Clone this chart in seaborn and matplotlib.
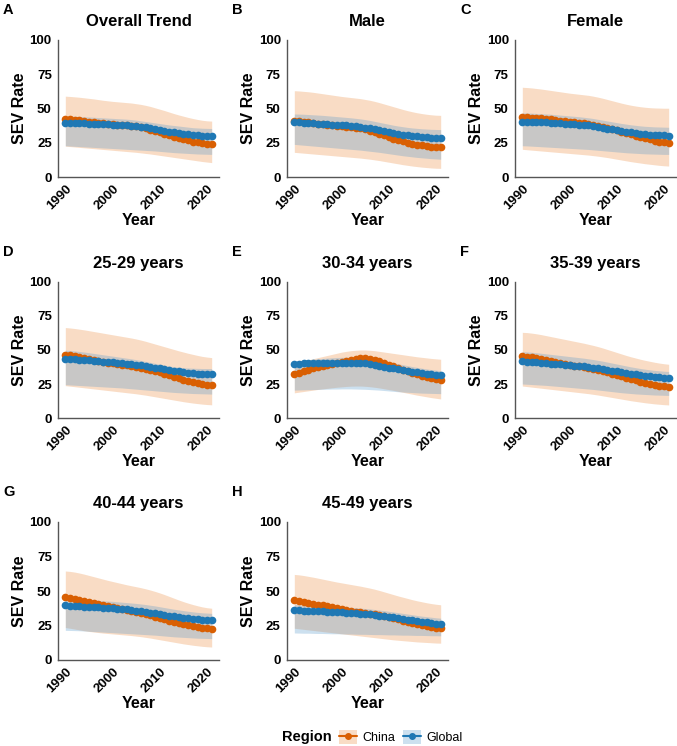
import numpy as np
import pandas as pd
import matplotlib
matplotlib.use("Agg")
import matplotlib.pyplot as plt
from matplotlib.patches import Patch
from matplotlib.lines import Line2D
import seaborn as sns

sns.set_style("white")
plt.rcParams['font.family'] = ['Liberation Sans', 'DejaVu Sans']
plt.rcParams['text.color'] = 'black'
plt.rcParams['axes.labelcolor'] = 'black'

years = list(range(1990, 2022))
panel_titles = ["Overall Trend", "Male", "Female", "25-29 years", "30-34 years",
                "35-39 years", "40-44 years", "45-49 years"]
panel_letters = ["A", "B", "C", "D", "E", "F", "G", "H"]
regions = ["China", "Global"]

# ---------- A: Overall Trend ----------
A_china = [42.5, 42.2, 41.8, 41.4, 41.0, 40.5, 40.0, 39.6, 39.2, 38.9, 38.6, 38.3, 38.0, 37.7, 37.4, 37.0, 36.4, 35.5, 34.5, 33.5, 32.5, 31.5, 30.5, 29.5, 28.5, 27.6, 26.7, 25.9, 25.2, 24.6, 24.1, 23.8]
A_global = [39.6, 39.5, 39.4, 39.3, 39.2, 39.0, 38.9, 38.7, 38.6, 38.4, 38.3, 38.1, 37.9, 37.7, 37.4, 37.2, 36.8, 36.2, 35.6, 35.0, 34.4, 33.8, 33.2, 32.6, 32.1, 31.6, 31.1, 30.7, 30.3, 30.0, 29.8, 29.7]
A_china_hi = [59.0, 58.8, 58.5, 58.2, 57.8, 57.4, 57.0, 56.5, 56.0, 55.6, 55.2, 54.9, 54.6, 54.3, 54.0, 53.5, 53.0, 52.3, 51.5, 50.5, 49.5, 48.5, 47.4, 46.3, 45.3, 44.4, 43.5, 42.7, 42.0, 41.4, 41.0, 40.8]
A_china_lo = [22.5, 22.2, 21.9, 21.6, 21.3, 21.0, 20.7, 20.4, 20.1, 19.8, 19.5, 19.2, 18.9, 18.6, 18.3, 18.0, 17.6, 17.2, 16.8, 16.3, 15.8, 15.3, 14.8, 14.3, 13.8, 13.3, 12.8, 12.3, 11.8, 11.3, 10.9, 10.5]
A_global_hi = [44.5, 44.4, 44.3, 44.2, 44.0, 43.8, 43.6, 43.4, 43.2, 43.0, 42.8, 42.6, 42.4, 42.2, 41.9, 41.5, 41.0, 40.5, 40.0, 39.5, 39.0, 38.5, 38.0, 37.6, 37.2, 36.8, 36.4, 36.0, 35.8, 35.6, 35.5, 35.4]
A_global_lo = [22.8, 22.6, 22.4, 22.2, 22.0, 21.8, 21.6, 21.4, 21.2, 21.0, 20.8, 20.6, 20.4, 20.2, 20.0, 19.8, 19.6, 19.4, 19.2, 19.0, 18.7, 18.4, 18.1, 17.8, 17.6, 17.4, 17.2, 17.0, 16.8, 16.7, 16.6, 16.5]

# ---------- B: Male ----------
B_china = [40.8, 40.7, 40.4, 40.0, 39.5, 39.0, 38.5, 38.0, 37.6, 37.3, 37.0, 36.7, 36.4, 36.0, 35.5, 34.8, 33.9, 32.8, 31.6, 30.4, 29.2, 28.0, 27.0, 26.0, 25.1, 24.3, 23.6, 23.0, 22.5, 22.1, 21.8, 21.6]
B_global = [40.0, 39.8, 39.6, 39.4, 39.2, 39.0, 38.8, 38.5, 38.3, 38.1, 37.9, 37.6, 37.3, 37.0, 36.6, 36.1, 35.5, 34.8, 34.1, 33.4, 32.7, 32.0, 31.4, 30.9, 30.4, 30.0, 29.6, 29.3, 29.0, 28.8, 28.6, 28.5]
B_china_hi = [63.0, 62.8, 62.5, 62.2, 61.8, 61.3, 60.8, 60.3, 59.8, 59.3, 58.8, 58.4, 58.0, 57.6, 57.2, 56.6, 56.0, 55.2, 54.3, 53.3, 52.3, 51.3, 50.3, 49.3, 48.4, 47.6, 46.9, 46.3, 45.8, 45.4, 45.1, 45.0]
B_china_lo = [18.0, 17.7, 17.4, 17.1, 16.8, 16.5, 16.2, 15.9, 15.6, 15.3, 15.0, 14.7, 14.4, 14.1, 13.8, 13.4, 13.0, 12.5, 12.0, 11.4, 10.8, 10.2, 9.6, 9.0, 8.5, 8.0, 7.6, 7.2, 6.9, 6.6, 6.4, 6.3]
B_global_hi = [46.0, 45.9, 45.8, 45.6, 45.4, 45.2, 45.0, 44.7, 44.4, 44.1, 43.8, 43.5, 43.2, 42.8, 42.4, 41.9, 41.3, 40.6, 39.9, 39.2, 38.5, 37.8, 37.2, 36.7, 36.2, 35.8, 35.5, 35.2, 35.0, 34.8, 34.7, 34.6]
B_global_lo = [23.8, 23.5, 23.2, 22.9, 22.6, 22.3, 22.0, 21.7, 21.4, 21.1, 20.8, 20.5, 20.2, 19.9, 19.6, 19.2, 18.8, 18.4, 18.0, 17.5, 17.0, 16.5, 16.0, 15.5, 15.1, 14.7, 14.3, 14.0, 13.7, 13.4, 13.2, 13.0]

# ---------- C: Female ----------
C_china = [43.9, 43.7, 43.4, 43.1, 42.8, 42.4, 42.0, 41.6, 41.2, 40.8, 40.4, 40.0, 39.6, 39.1, 38.6, 38.0, 37.3, 36.5, 35.7, 34.9, 34.0, 33.1, 32.2, 31.2, 30.2, 29.2, 28.3, 27.4, 26.6, 25.9, 25.4, 25.0]
C_global = [40.3, 40.2, 40.1, 40.0, 39.9, 39.8, 39.6, 39.4, 39.2, 39.0, 38.8, 38.6, 38.3, 38.0, 37.6, 37.1, 36.5, 35.9, 35.3, 34.7, 34.1, 33.5, 33.0, 32.5, 32.0, 31.6, 31.2, 30.9, 30.6, 30.4, 30.3, 30.2]
C_china_hi = [65.5, 65.3, 65.0, 64.6, 64.2, 63.7, 63.2, 62.7, 62.2, 61.7, 61.2, 60.8, 60.4, 60.0, 59.6, 59.0, 58.3, 57.5, 56.6, 55.7, 54.8, 53.9, 53.1, 52.4, 51.8, 51.3, 50.9, 50.6, 50.4, 50.3, 50.2, 50.2]
C_china_lo = [20.2, 19.9, 19.6, 19.3, 19.0, 18.7, 18.4, 18.1, 17.8, 17.5, 17.2, 16.9, 16.6, 16.3, 16.0, 15.6, 15.2, 14.7, 14.2, 13.6, 13.0, 12.4, 11.8, 11.2, 10.7, 10.2, 9.7, 9.3, 8.9, 8.5, 8.2, 8.0]
C_global_hi = [46.8, 46.7, 46.6, 46.4, 46.2, 46.0, 45.8, 45.5, 45.2, 44.9, 44.6, 44.3, 44.0, 43.6, 43.2, 42.7, 42.1, 41.5, 40.9, 40.3, 39.7, 39.1, 38.6, 38.1, 37.7, 37.3, 37.0, 36.8, 36.6, 36.5, 36.4, 36.3]
C_global_lo = [22.8, 22.7, 22.5, 22.3, 22.1, 21.9, 21.7, 21.5, 21.3, 21.1, 20.9, 20.7, 20.5, 20.3, 20.1, 19.8, 19.5, 19.2, 18.9, 18.6, 18.3, 18.0, 17.7, 17.5, 17.3, 17.1, 16.9, 16.8, 16.7, 16.6, 16.5, 16.5]

# ---------- D: 25-29 years ----------
D_china = [46.2, 46.0, 45.3, 44.5, 43.8, 43.1, 42.5, 41.9, 41.3, 40.8, 40.3, 39.8, 39.3, 38.8, 38.2, 37.6, 37.0, 36.3, 35.5, 34.6, 33.6, 32.5, 31.4, 30.3, 29.3, 28.3, 27.4, 26.5, 25.7, 25.0, 24.4, 24.0]
D_global = [43.5, 43.4, 43.2, 43.0, 42.7, 42.4, 42.1, 41.8, 41.5, 41.2, 40.9, 40.6, 40.3, 40.0, 39.6, 39.2, 38.7, 38.2, 37.6, 37.0, 36.4, 35.8, 35.2, 34.7, 34.2, 33.8, 33.4, 33.0, 32.7, 32.5, 32.3, 32.2]
D_china_hi = [66.5, 66.2, 65.8, 65.3, 64.8, 64.2, 63.6, 63.0, 62.4, 61.8, 61.2, 60.6, 60.0, 59.4, 58.8, 58.1, 57.3, 56.4, 55.4, 54.4, 53.4, 52.4, 51.4, 50.4, 49.4, 48.5, 47.6, 46.8, 46.0, 45.3, 44.8, 44.4]
D_china_lo = [23.8, 23.4, 23.0, 22.6, 22.2, 21.8, 21.4, 21.0, 20.6, 20.2, 19.8, 19.4, 19.0, 18.6, 18.2, 17.8, 17.3, 16.8, 16.2, 15.6, 15.0, 14.4, 13.8, 13.2, 12.6, 12.0, 11.5, 11.0, 10.6, 10.2, 9.9, 9.7]
D_global_hi = [49.8, 49.6, 49.3, 48.9, 48.5, 48.0, 47.5, 47.0, 46.5, 46.0, 45.5, 45.0, 44.5, 44.0, 43.5, 42.9, 42.3, 41.6, 40.9, 40.2, 39.5, 38.8, 38.2, 37.7, 37.3, 37.0, 36.8, 36.6, 36.5, 36.4, 36.4, 36.3]
D_global_lo = [24.5, 24.3, 24.1, 23.9, 23.7, 23.5, 23.3, 23.1, 22.9, 22.7, 22.5, 22.3, 22.1, 21.8, 21.5, 21.2, 20.9, 20.6, 20.3, 20.0, 19.7, 19.4, 19.1, 18.8, 18.6, 18.4, 18.2, 18.0, 17.9, 17.8, 17.7, 17.6]

# ---------- E: 30-34 years ----------
E_china = [32.0, 33.2, 34.4, 35.5, 36.5, 37.4, 38.2, 39.0, 39.8, 40.6, 41.4, 42.2, 42.9, 43.5, 43.8, 43.8, 43.5, 42.8, 41.8, 40.6, 39.3, 38.0, 36.8, 35.6, 34.4, 33.3, 32.2, 31.2, 30.3, 29.4, 28.6, 28.0]
E_global = [39.8, 40.0, 40.1, 40.2, 40.3, 40.4, 40.5, 40.6, 40.7, 40.8, 40.8, 40.8, 40.8, 40.7, 40.5, 40.2, 39.8, 39.2, 38.5, 37.8, 37.1, 36.4, 35.8, 35.2, 34.6, 34.0, 33.5, 33.0, 32.5, 32.1, 31.8, 31.6]
E_china_hi = [40.5, 41.2, 42.0, 42.8, 43.6, 44.4, 45.2, 46.0, 46.8, 47.6, 48.4, 49.0, 49.5, 49.8, 50.0, 50.0, 49.8, 49.5, 49.0, 48.5, 48.0, 47.5, 47.0, 46.5, 46.0, 45.5, 45.0, 44.6, 44.2, 43.8, 43.5, 43.2]
E_china_lo = [18.5, 19.0, 19.5, 20.0, 20.5, 21.0, 21.4, 21.8, 22.2, 22.6, 22.9, 23.2, 23.4, 23.5, 23.5, 23.3, 23.0, 22.6, 22.1, 21.5, 20.9, 20.3, 19.6, 18.9, 18.2, 17.5, 16.8, 16.2, 15.6, 15.0, 14.5, 14.0]
E_global_hi = [42.0, 42.3, 42.6, 42.9, 43.2, 43.5, 43.8, 44.1, 44.3, 44.5, 44.6, 44.7, 44.7, 44.6, 44.4, 44.1, 43.7, 43.2, 42.6, 42.0, 41.3, 40.6, 39.9, 39.2, 38.5, 37.8, 37.2, 36.6, 36.1, 35.6, 35.2, 34.8]
E_global_lo = [20.5, 20.6, 20.7, 20.8, 20.9, 21.0, 21.1, 21.2, 21.3, 21.3, 21.4, 21.4, 21.4, 21.3, 21.2, 21.1, 20.9, 20.7, 20.5, 20.2, 19.9, 19.6, 19.3, 19.1, 18.9, 18.7, 18.5, 18.3, 18.2, 18.1, 18.0, 17.9]

# ---------- F: 35-39 years ----------
F_china = [45.7, 45.2, 44.6, 44.0, 43.3, 42.6, 41.9, 41.2, 40.5, 39.8, 39.1, 38.5, 37.9, 37.3, 36.7, 36.1, 35.4, 34.6, 33.7, 32.7, 31.7, 30.7, 29.7, 28.7, 27.7, 26.8, 25.9, 25.1, 24.4, 23.8, 23.2, 22.8]
F_global = [41.6, 41.4, 41.2, 40.9, 40.6, 40.3, 40.0, 39.7, 39.4, 39.1, 38.8, 38.5, 38.2, 37.9, 37.5, 37.1, 36.6, 36.0, 35.4, 34.8, 34.2, 33.6, 33.0, 32.5, 32.0, 31.5, 31.0, 30.6, 30.2, 29.9, 29.6, 29.4]
F_china_hi = [63.0, 62.8, 62.4, 61.9, 61.3, 60.6, 59.9, 59.2, 58.5, 57.8, 57.1, 56.4, 55.7, 55.0, 54.2, 53.4, 52.5, 51.5, 50.4, 49.3, 48.2, 47.1, 46.0, 45.0, 44.1, 43.2, 42.4, 41.7, 41.0, 40.4, 39.9, 39.5]
F_china_lo = [23.5, 23.1, 22.7, 22.3, 21.9, 21.5, 21.1, 20.7, 20.3, 19.9, 19.5, 19.1, 18.7, 18.3, 17.9, 17.4, 16.9, 16.3, 15.7, 15.1, 14.5, 13.9, 13.3, 12.7, 12.2, 11.7, 11.2, 10.8, 10.4, 10.1, 9.8, 9.6]
F_global_hi = [48.8, 48.6, 48.3, 48.0, 47.6, 47.2, 46.8, 46.4, 46.0, 45.6, 45.2, 44.8, 44.4, 44.0, 43.5, 43.0, 42.4, 41.8, 41.1, 40.4, 39.7, 39.0, 38.3, 37.6, 37.0, 36.4, 35.9, 35.4, 35.0, 34.7, 34.4, 34.2]
F_global_lo = [25.0, 24.8, 24.6, 24.4, 24.2, 24.0, 23.7, 23.4, 23.1, 22.8, 22.5, 22.2, 21.9, 21.6, 21.3, 21.0, 20.6, 20.2, 19.8, 19.4, 19.0, 18.6, 18.3, 18.0, 17.7, 17.5, 17.3, 17.1, 16.9, 16.8, 16.7, 16.6]

# ---------- G: 40-44 years ----------
G_china = [45.3, 44.8, 44.2, 43.5, 42.8, 42.0, 41.2, 40.4, 39.6, 38.9, 38.2, 37.5, 36.8, 36.1, 35.4, 34.7, 34.0, 33.2, 32.4, 31.5, 30.5, 29.5, 28.5, 27.6, 26.7, 25.9, 25.1, 24.5, 23.9, 23.4, 23.0, 22.8]
G_global = [39.5, 39.3, 39.1, 38.9, 38.7, 38.5, 38.3, 38.1, 37.9, 37.7, 37.5, 37.2, 36.9, 36.6, 36.2, 35.8, 35.3, 34.8, 34.3, 33.8, 33.2, 32.6, 32.1, 31.6, 31.1, 30.6, 30.2, 29.8, 29.4, 29.1, 28.9, 28.7]
G_china_hi = [64.5, 64.2, 63.7, 63.0, 62.2, 61.3, 60.4, 59.5, 58.6, 57.7, 56.9, 56.1, 55.3, 54.5, 53.8, 53.1, 52.4, 51.6, 50.7, 49.7, 48.6, 47.4, 46.1, 44.8, 43.5, 42.3, 41.2, 40.2, 39.3, 38.5, 37.9, 37.5]
G_china_lo = [23.5, 23.0, 22.4, 21.8, 21.2, 20.7, 20.3, 19.9, 19.5, 19.2, 18.9, 18.6, 18.3, 18.0, 17.7, 17.3, 16.9, 16.4, 15.9, 15.3, 14.7, 14.1, 13.5, 12.9, 12.3, 11.7, 11.2, 10.7, 10.3, 9.9, 9.6, 9.4]
G_global_hi = [44.5, 44.3, 44.1, 43.9, 43.7, 43.5, 43.3, 43.1, 42.9, 42.7, 42.5, 42.2, 41.9, 41.6, 41.3, 41.0, 40.6, 40.2, 39.7, 39.2, 38.6, 38.0, 37.4, 36.8, 36.3, 35.8, 35.3, 34.9, 34.5, 34.2, 34.0, 33.8]
G_global_lo = [21.5, 21.4, 21.3, 21.2, 21.0, 20.8, 20.6, 20.4, 20.2, 20.0, 19.8, 19.6, 19.4, 19.2, 19.0, 18.8, 18.6, 18.4, 18.2, 18.0, 17.7, 17.4, 17.1, 16.8, 16.6, 16.4, 16.2, 16.0, 15.8, 15.7, 15.6, 15.5]

# ---------- H: 45-49 years ----------
H_china = [43.6, 43.0, 42.3, 41.6, 40.9, 40.2, 39.5, 38.8, 38.1, 37.4, 36.8, 36.2, 35.6, 35.0, 34.5, 34.0, 33.5, 33.0, 32.4, 31.8, 31.1, 30.3, 29.5, 28.6, 27.7, 26.8, 26.0, 25.2, 24.5, 23.9, 23.4, 23.0]
H_global = [36.0, 35.9, 35.8, 35.7, 35.6, 35.5, 35.3, 35.1, 34.9, 34.7, 34.5, 34.3, 34.1, 33.9, 33.6, 33.3, 33.0, 32.6, 32.2, 31.8, 31.3, 30.8, 30.3, 29.8, 29.3, 28.8, 28.3, 27.8, 27.3, 26.8, 26.3, 25.9]
H_china_hi = [62.0, 61.7, 61.2, 60.6, 60.0, 59.3, 58.6, 57.9, 57.2, 56.5, 55.9, 55.3, 54.7, 54.1, 53.5, 52.8, 52.1, 51.3, 50.4, 49.4, 48.4, 47.4, 46.4, 45.5, 44.6, 43.7, 42.9, 42.2, 41.5, 40.9, 40.4, 40.0]
H_china_lo = [23.0, 22.6, 22.2, 21.8, 21.4, 21.0, 20.6, 20.2, 19.8, 19.4, 19.0, 18.6, 18.2, 17.8, 17.4, 17.0, 16.6, 16.2, 15.8, 15.4, 15.0, 14.6, 14.3, 14.0, 13.7, 13.4, 13.1, 12.9, 12.7, 12.5, 12.3, 12.2]
H_global_hi = [40.0, 39.9, 39.8, 39.7, 39.6, 39.5, 39.3, 39.1, 38.9, 38.7, 38.5, 38.3, 38.1, 37.9, 37.6, 37.3, 37.0, 36.6, 36.2, 35.8, 35.3, 34.8, 34.3, 33.8, 33.3, 32.8, 32.3, 31.8, 31.4, 31.0, 30.6, 30.3]
H_global_lo = [19.6, 19.5, 19.4, 19.4, 19.3, 19.2, 19.2, 19.1, 19.0, 19.0, 18.9, 18.8, 18.8, 18.7, 18.6, 18.6, 18.5, 18.4, 18.4, 18.3, 18.2, 18.2, 18.1, 18.0, 18.0, 17.9, 17.8, 17.8, 17.7, 17.6, 17.6, 17.5]

panels = [
    (A_china, A_global, A_china_lo, A_china_hi, A_global_lo, A_global_hi),
    (B_china, B_global, B_china_lo, B_china_hi, B_global_lo, B_global_hi),
    (C_china, C_global, C_china_lo, C_china_hi, C_global_lo, C_global_hi),
    (D_china, D_global, D_china_lo, D_china_hi, D_global_lo, D_global_hi),
    (E_china, E_global, E_china_lo, E_china_hi, E_global_lo, E_global_hi),
    (F_china, F_global, F_china_lo, F_china_hi, F_global_lo, F_global_hi),
    (G_china, G_global, G_china_lo, G_china_hi, G_global_lo, G_global_hi),
    (H_china, H_global, H_china_lo, H_china_hi, H_global_lo, H_global_hi),
]

line_colors = {"China": "#D95F02", "Global": "#1F78B4"}
band_china = "#E8751A"
band_global = "#5799CB"

W, H = 677, 746
fig = plt.figure(figsize=(W / 100, H / 100), dpi=100)

col_x = [58, 287, 515]
row_y = [(40, 177), (282, 418), (522, 660)]
ax_w = 161

axis_gray = "#555555"

for i, (title, letter, data) in enumerate(zip(panel_titles, panel_letters, panels)):
    r, c = divmod(i, 3)
    top, bot = row_y[r]
    left = col_x[c]
    ax = fig.add_axes([left / W, 1 - bot / H, ax_w / W, (bot - top) / H])
    ch, gl, chlo, chhi, gllo, glhi = data
    ax.fill_between(years, chlo, chhi, color=band_china, alpha=0.25, linewidth=0)
    ax.fill_between(years, gllo, glhi, color=band_global, alpha=0.30, linewidth=0)
    df = pd.DataFrame({
        "Year": years * 2,
        "SEV": list(ch) + list(gl),
        "Region": ["China"] * len(years) + ["Global"] * len(years),
    })
    sns.lineplot(data=df, x="Year", y="SEV", hue="Region", hue_order=regions,
                 palette=line_colors, marker="o", markersize=5.5, markeredgewidth=0,
                 linewidth=1.6, legend=False, ax=ax)
    ax.set_xlim(1988.45, 2022.55)
    ax.set_ylim(0, 100)
    ax.set_xticks([1990, 2000, 2010, 2020])
    ax.set_yticks([0, 25, 50, 75, 100])
    sns.despine(ax=ax)
    for s in ["left", "bottom"]:
        ax.spines[s].set_color(axis_gray)
        ax.spines[s].set_linewidth(1.0)
    ax.tick_params(axis="both", which="major", direction="out", length=3, width=0.8,
                   color=axis_gray, labelsize=9.5, labelcolor="black", pad=1.5)
    for lab in ax.get_xticklabels():
        lab.set_rotation(45)
        lab.set_ha("right")
        lab.set_rotation_mode("anchor")
        lab.set_fontweight("bold")
    for lab in ax.get_yticklabels():
        lab.set_fontweight("bold")
    ax.set_xlabel("Year", fontsize=11.5, fontweight="bold", labelpad=0, color="black")
    ax.set_ylabel("SEV Rate", fontsize=11.5, fontweight="bold", labelpad=2, color="black")
    ax.set_title(title, fontsize=12, fontweight="bold", pad=10, color="black")
    ax.set_facecolor("white")
    ax.grid(False)
    # panel letter
    fig.text((left - 55) / W, 1 - (top - 30) / H, letter, fontsize=10.5,
             fontweight="bold", ha="left", va="center", color="black")

# legend
handles = [
    (Patch(facecolor=band_china, alpha=0.25, edgecolor="none"),
     Line2D([], [], color=line_colors["China"], marker="o", markersize=4, linewidth=1.5)),
    (Patch(facecolor=band_global, alpha=0.30, edgecolor="none"),
     Line2D([], [], color=line_colors["Global"], marker="o", markersize=4, linewidth=1.5)),
]
fig.text(282 / W, 1 - 737 / H, "Region", fontsize=10.5, fontweight="bold", ha="left",
         va="center", color="black")
fig.legend(handles, regions, loc="center left", bbox_to_anchor=(331 / W, 1 - 737 / H),
           ncol=2, frameon=False, fontsize=9, handlelength=1.5, handleheight=1.3,
           columnspacing=0.6, handletextpad=0.4, borderpad=0.1, labelcolor="black")

fig.savefig("out.png", dpi=100, facecolor="white")
